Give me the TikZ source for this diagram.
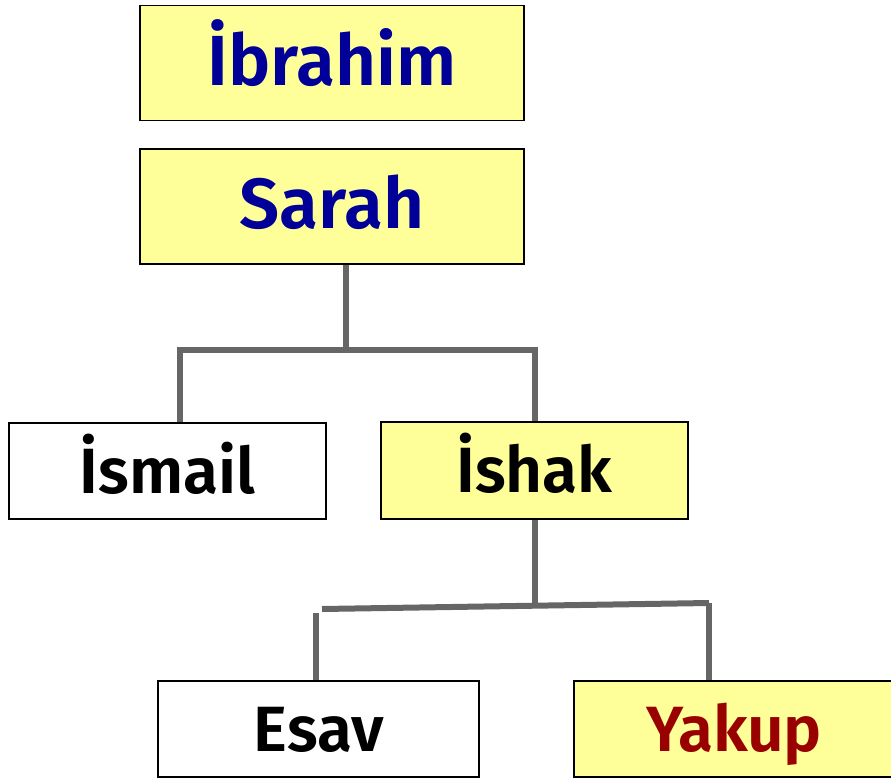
\documentclass[tikz,border=0pt]{standalone}
\usepackage{fontspec}
\setmainfont{Fira Sans}[BoldFont={Fira Sans SemiBold}]
\definecolor{boxfill}{HTML}{FFFF99}
\definecolor{nameblue}{HTML}{000099}
\definecolor{namered}{HTML}{990000}
\definecolor{linkgray}{HTML}{666666}
\begin{document}
\begin{tikzpicture}[x=1pt,y=-1pt,
  person/.style={draw=black,line width=1.3pt,inner sep=0pt,text height=50pt,text depth=6pt},
  bigname/.style={font=\fontsize{71}{71}\selectfont\bfseries},
  smallname/.style={font=\fontsize{64}{64}\selectfont\bfseries},
  yellowbox/.style={person,fill=boxfill},
  whitebox/.style={person,fill=white},
  link/.style={draw=linkgray,line width=6pt}]
\useasboundingbox (0,0) rectangle (891,779);
\node[yellowbox,bigname,minimum width=384pt,minimum height=115pt,text=nameblue] (ibrahim) at (332,63) {İbrahim};
\node[yellowbox,bigname,minimum width=384pt,minimum height=115pt,text=nameblue] (sarah) at (332,206.5) {Sarah};
\node[whitebox,smallname,minimum width=317pt,minimum height=96pt] (ismail) at (167.5,471) {İsmail};
\node[yellowbox,smallname,minimum width=307pt,minimum height=97pt] (ishak) at (534.5,470.5) {İshak};
\node[whitebox,smallname,minimum width=321pt,minimum height=96pt] (esav) at (318.5,729) {Esav};
\node[yellowbox,smallname,minimum width=320pt,minimum height=96pt,text=namered] (yakup) at (734,729) {Yakup};
% junctions
\coordinate (j1) at (346,350);
\coordinate (j1l) at (180,350);
\coordinate (j1r) at (535,350);
\coordinate (j2) at (535,604);
\coordinate (j2l) at (316,609);
\coordinate (j2r) at (709,603);
\draw[link] (sarah.south -| j1) -- (j1);
\draw[link] ([xshift=-3pt]j1l) -- ([xshift=3pt]j1r);
\draw[link] (j1l) -- (ismail.north -| j1l);
\draw[link] (j1r) -- (ishak.north -| j1r);
\draw[link] (ishak.south -| j2) -- (j2);
\draw[link] ([xshift=6pt]j2l) -- (j2r);
\draw[link] ([yshift=-4pt]j2l) -- (esav.north -| j2l);
\draw[link] (j2r) -- (yakup.north -| j2r);
\end{tikzpicture}
\end{document}
